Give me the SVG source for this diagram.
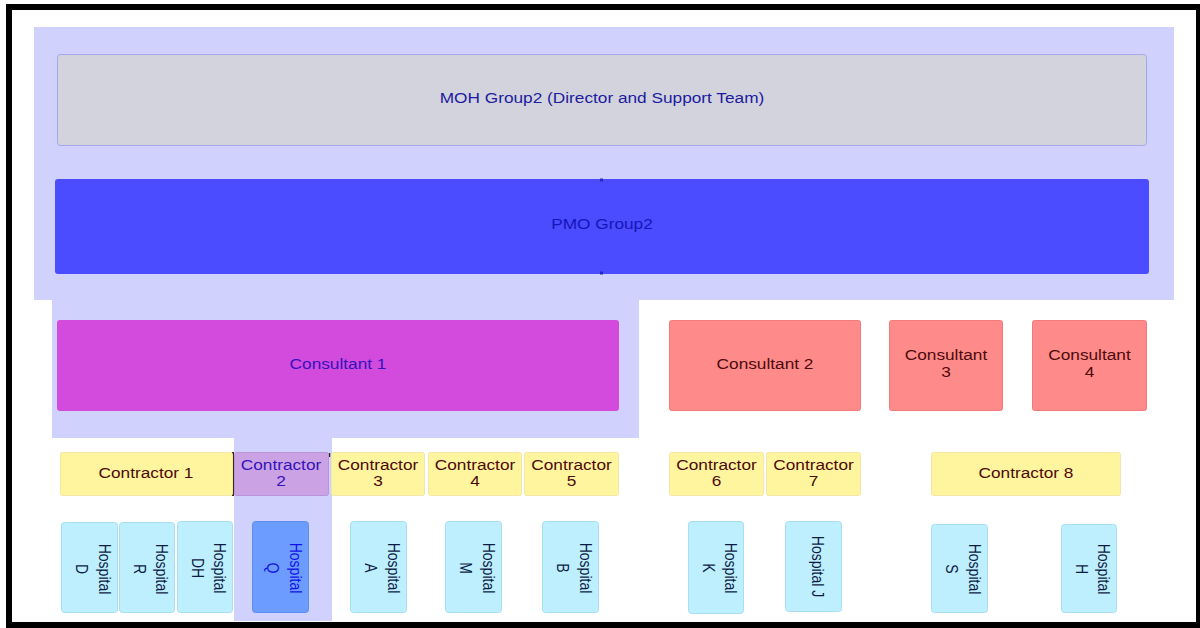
<svg xmlns="http://www.w3.org/2000/svg" width="1200" height="628" viewBox="0 0 1200 628">
  <style>
    text { font-family: "Liberation Sans", Arial, sans-serif; text-anchor: middle; }
    .band { fill: #D1D1FE; }
    .moh { fill: #D3D3DE; stroke: #A6A6EA; stroke-width: 1; }
    .pmo { fill: #4B4BFF; }
    .c1 { fill: #D24BDC; }
    .cons { fill: #FF8A8A; stroke: #F27A7A; stroke-width: 1; }
    .ctr { fill: #FFF59E; stroke: #F3E6A6; stroke-width: 1; }
    .ctr2 { fill: #CBA2E4; stroke: #B894DA; stroke-width: 1; }
    .hos { fill: #BDEFFF; stroke: #A8DEEF; stroke-width: 1; }
    .hosq { fill: #6C9CFF; stroke: #5E8EF0; stroke-width: 1; }
    .t15 { font-size: 15px; }
    .t14 { font-size: 14px; }
    .navy { fill: #1C1CA0; }
    .blue { fill: #1616B8; }
    .purple { fill: #3412BC; }
    .maroon { fill: #4D0A0A; }
    .ink { fill: #0E1C44; }
    .qink { fill: #1212E6; }
    .tick { stroke: #2A2AB0; stroke-width: 3; }
  </style>

  <rect x="0" y="0" width="1200" height="628" fill="#FFFFFF"/>

  <!-- highlighted reporting line: band behind MOH/PMO, Consultant 1 and Contractor 2 -->
  <g id="highlight">
    <rect class="band" x="34" y="27" width="1140" height="273"/>
    <rect class="band" x="52" y="299" width="587" height="139"/>
    <rect class="band" x="234" y="437" width="98" height="184"/>
  </g>

  <g id="moh">
    <rect class="moh" x="57.5" y="54.5" width="1089" height="91" rx="3"/>
    <text class="t15 navy" transform="translate(602 102.5) scale(1.15 1)">MOH Group2 (Director and Support Team)</text>
  </g>

  <g id="pmo">
    <rect class="pmo" x="55" y="179" width="1094" height="95" rx="3"/>
    <text class="t15 blue" transform="translate(602 228.5) scale(1.15 1)">PMO Group2</text>
  </g>

  <g id="connectors">
    <line class="tick" x1="600" y1="180" x2="603" y2="180"/>
    <line class="tick" x1="600" y1="273" x2="603" y2="273"/>
    <line stroke="#3A2A10" stroke-width="2" x1="233" y1="452" x2="233" y2="496"/>
    <line stroke="#2A2A2A" stroke-width="1.5" x1="329.5" y1="453" x2="329.5" y2="457"/>
  </g>

  <!-- consultants -->
  <g id="consultant-1">
    <rect class="c1" x="57" y="320" width="562" height="91" rx="3"/>
    <text class="t15 purple" transform="translate(338 368.5) scale(1.15 1)">Consultant 1</text>
  </g>
  <g id="consultant-2">
    <rect class="cons" x="669.5" y="320.5" width="191" height="90" rx="2"/>
    <text class="t15 maroon" transform="translate(765 368.5) scale(1.15 1)">Consultant 2</text>
  </g>
  <g id="consultant-3">
    <rect class="cons" x="889.5" y="320.5" width="113" height="90" rx="2"/>
    <text class="t15 maroon" transform="translate(946 360) scale(1.15 1)">Consultant</text>
    <text class="t15 maroon" transform="translate(946 376.5) scale(1.15 1)">3</text>
  </g>
  <g id="consultant-4">
    <rect class="cons" x="1032.5" y="320.5" width="114" height="90" rx="2"/>
    <text class="t15 maroon" transform="translate(1089.5 360) scale(1.15 1)">Consultant</text>
    <text class="t15 maroon" transform="translate(1089.5 376.5) scale(1.15 1)">4</text>
  </g>

  <!-- contractors -->
  <g id="contractor-1">
    <rect class="ctr" x="60.5" y="452.5" width="172" height="43" rx="2"/>
    <text class="t15 maroon" transform="translate(146 478) scale(1.15 1)">Contractor 1</text>
  </g>
  <g id="contractor-2">
    <rect class="ctr2" x="234.5" y="452.5" width="94" height="43" rx="2"/>
    <text class="t15 purple" transform="translate(281 469.5) scale(1.15 1)">Contractor</text>
    <text class="t15 purple" transform="translate(281 486) scale(1.15 1)">2</text>
  </g>
  <g id="contractor-3">
    <rect class="ctr" x="331.5" y="452.5" width="93" height="43" rx="2"/>
    <text class="t15 maroon" transform="translate(378 469.5) scale(1.15 1)">Contractor</text>
    <text class="t15 maroon" transform="translate(378 486) scale(1.15 1)">3</text>
  </g>
  <g id="contractor-4">
    <rect class="ctr" x="428.5" y="452.5" width="93" height="43" rx="2"/>
    <text class="t15 maroon" transform="translate(475 469.5) scale(1.15 1)">Contractor</text>
    <text class="t15 maroon" transform="translate(475 486) scale(1.15 1)">4</text>
  </g>
  <g id="contractor-5">
    <rect class="ctr" x="524.5" y="452.5" width="94" height="43" rx="2"/>
    <text class="t15 maroon" transform="translate(571.5 469.5) scale(1.15 1)">Contractor</text>
    <text class="t15 maroon" transform="translate(571.5 486) scale(1.15 1)">5</text>
  </g>
  <g id="contractor-6">
    <rect class="ctr" x="669.5" y="452.5" width="94" height="43" rx="2"/>
    <text class="t15 maroon" transform="translate(716.5 469.5) scale(1.15 1)">Contractor</text>
    <text class="t15 maroon" transform="translate(716.5 486) scale(1.15 1)">6</text>
  </g>
  <g id="contractor-7">
    <rect class="ctr" x="766.5" y="452.5" width="94" height="43" rx="2"/>
    <text class="t15 maroon" transform="translate(813.5 469.5) scale(1.15 1)">Contractor</text>
    <text class="t15 maroon" transform="translate(813.5 486) scale(1.15 1)">7</text>
  </g>
  <g id="contractor-8">
    <rect class="ctr" x="931.5" y="452.5" width="189" height="43" rx="2"/>
    <text class="t15 maroon" transform="translate(1026 478) scale(1.15 1)">Contractor 8</text>
  </g>

  <!-- hospitals: labels run top to bottom -->
  <g id="hospital-d">
    <rect class="hos" x="61.5" y="522.5" width="56" height="90" rx="3"/>
    <text class="t14 ink" transform="translate(89.5 569) scale(1.15 1) rotate(90)"><tspan x="0" y="-8">Hospital</tspan><tspan x="0" y="11.5">D</tspan></text>
  </g>
  <g id="hospital-r">
    <rect class="hos" x="119.5" y="522.5" width="55" height="90" rx="3"/>
    <text class="t14 ink" transform="translate(147 569) scale(1.15 1) rotate(90)"><tspan x="0" y="-8">Hospital</tspan><tspan x="0" y="11.5">R</tspan></text>
  </g>
  <g id="hospital-dh">
    <rect class="hos" x="177.5" y="521.5" width="55" height="91" rx="3"/>
    <text class="t14 ink" transform="translate(205 568) scale(1.15 1) rotate(90)"><tspan x="0" y="-8">Hospital</tspan><tspan x="0" y="11.5">DH</tspan></text>
  </g>
  <g id="hospital-q">
    <rect class="hosq" x="252.5" y="521.5" width="56" height="91" rx="3"/>
    <text class="t14 qink" transform="translate(280.5 568) scale(1.15 1) rotate(90)"><tspan x="0" y="-8">Hospital</tspan><tspan x="0" y="11.5">Q</tspan></text>
  </g>
  <g id="hospital-a">
    <rect class="hos" x="350.5" y="521.5" width="56" height="91" rx="3"/>
    <text class="t14 ink" transform="translate(378.5 568) scale(1.15 1) rotate(90)"><tspan x="0" y="-8">Hospital</tspan><tspan x="0" y="11.5">A</tspan></text>
  </g>
  <g id="hospital-m">
    <rect class="hos" x="445.5" y="521.5" width="56" height="91" rx="3"/>
    <text class="t14 ink" transform="translate(473.5 568) scale(1.15 1) rotate(90)"><tspan x="0" y="-8">Hospital</tspan><tspan x="0" y="11.5">M</tspan></text>
  </g>
  <g id="hospital-b">
    <rect class="hos" x="542.5" y="521.5" width="56" height="91" rx="3"/>
    <text class="t14 ink" transform="translate(570.5 568) scale(1.15 1) rotate(90)"><tspan x="0" y="-8">Hospital</tspan><tspan x="0" y="11.5">B</tspan></text>
  </g>
  <g id="hospital-k">
    <rect class="hos" x="688.5" y="521.5" width="55" height="92" rx="3"/>
    <text class="t14 ink" transform="translate(716 568) scale(1.15 1) rotate(90)"><tspan x="0" y="-8">Hospital</tspan><tspan x="0" y="11.5">K</tspan></text>
  </g>
  <g id="hospital-j">
    <rect class="hos" x="785.5" y="521.5" width="56" height="90" rx="3"/>
    <text class="t14 ink" transform="translate(813.5 566.5) scale(1.15 1) rotate(90)"><tspan x="0" y="1.7">Hospital J</tspan></text>
  </g>
  <g id="hospital-s">
    <rect class="hos" x="931.5" y="524.5" width="56" height="88" rx="3"/>
    <text class="t14 ink" transform="translate(959.5 569) scale(1.15 1) rotate(90)"><tspan x="0" y="-8">Hospital</tspan><tspan x="0" y="11.5">S</tspan></text>
  </g>
  <g id="hospital-h">
    <rect class="hos" x="1061.5" y="524.5" width="55" height="88" rx="3"/>
    <text class="t14 ink" transform="translate(1089 569) scale(1.15 1) rotate(90)"><tspan x="0" y="-8">Hospital</tspan><tspan x="0" y="11.5">H</tspan></text>
  </g>

  <!-- outer frame -->
  <rect x="9" y="7" width="1190" height="618" fill="none" stroke="#000000" stroke-width="6"/>
</svg>
